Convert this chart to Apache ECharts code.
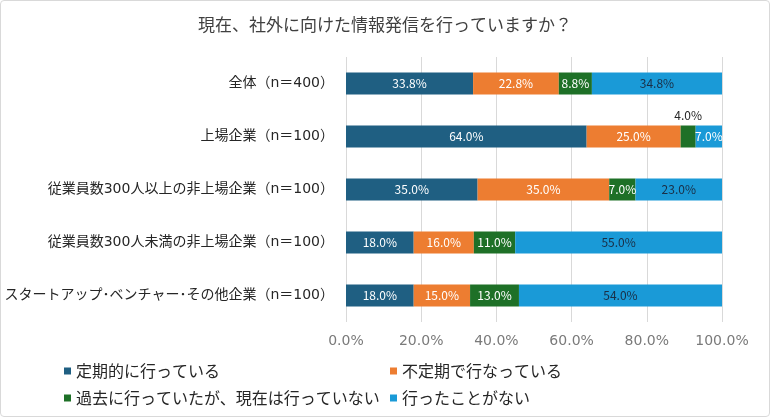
<!DOCTYPE html>
<html>
<head>
<meta charset="utf-8">
<script src="https://cdn.jsdelivr.net/npm/echarts@6/dist/echarts.min.js"></script>
<style>
    html, body { margin: 0; padding: 0; background: #fff; }
    #chart { width: 768px; height: 415px; border: 1px solid #d9d9d9; border-radius: 4px; }
</style>
</head>
<body>
<div id="chart"></div>
<script>
// 集計データ（％）
var categories = [
    '全体（n＝400）',
    '上場企業（n＝100）',
    '従業員数300人以上の非上場企業（n＝100）',
    '従業員数300人未満の非上場企業（n＝100）',
    'スタートアップ･ベンチャー･その他企業（n＝100）'
]
var seriesNames = ['定期的に行っている', '不定期で行なっている', '過去に行っていたが、現在は行っていない', '行ったことがない']
var regular = [33.8, 64.0, 35.0, 18.0, 18.0]
var irregular = [22.8, 25.0, 35.0, 16.0, 15.0]
var past = [8.8, 4.0, 7.0, 11.0, 13.0]
var never = [34.8, 7.0, 23.0, 55.0, 54.0]
var xTicks = [0, 20, 40, 60, 80, 100]

var colors = ['#1f5f82', '#ed7d31', '#1e7027', '#1a9ad7']
var labelColors = ['#ffffff', '#ffffff', '#ffffff', '#1a2e45']
var font = '"Noto Sans CJK JP", "Noto Sans", sans-serif'
var wideFont = '"DejaVu Sans", "Noto Sans CJK JP", sans-serif'

var values = [regular, irregular, past, never]

var makeSeries = function (i) {
    var data = values[i].map(function (v, j) {
        var item = { value: v }
        // 細いセグメントはラベルを上に出す
        if (i === 2 && j === 1) {
            item.label = { position: 'top', color: '#262626', distance: 4 }
        }
        if (i === 3 && j === 1) {
            item.label = { color: '#ffffff' }
        }
        return item
    })
    return {
        name: seriesNames[i],
        type: 'bar',
        stack: 'total',
        barWidth: 22,
        itemStyle: { color: colors[i] },
        label: {
            show: true,
            position: 'inside',
            color: labelColors[i],
            fontSize: 12,
            fontFamily: font,
            formatter: function (p) { return p.value.toFixed(1) + '%' }
        },
        data: data
    }
}

var myChart = echarts.init(document.getElementById('chart'))
var options = {
    animation: false,
    textStyle: { fontFamily: font },
    title: {
        text: '現在、社外に向けた情報発信を行っていますか？',
        left: 'center',
        top: 10,
        textStyle: { fontSize: 17, fontWeight: 'normal', color: '#404040', fontFamily: font }
    },
    legend: [
        {
            orient: 'vertical',
            left: 58,
            top: 357,
            itemWidth: 7,
            itemHeight: 7,
            itemGap: 11,
            icon: 'rect',
            textStyle: { fontSize: 16, color: '#262626', fontFamily: font },
            data: [seriesNames[0], seriesNames[2]]
        },
        {
            orient: 'vertical',
            left: 384,
            top: 357,
            itemWidth: 7,
            itemHeight: 7,
            itemGap: 11,
            icon: 'rect',
            textStyle: { fontSize: 16, color: '#262626', fontFamily: font },
            data: [seriesNames[1], seriesNames[3]]
        }
    ],
    grid: { left: 345, right: 47, top: 56, height: 265, containLabel: false },
    xAxis: {
        type: 'value',
        min: xTicks[0],
        max: xTicks[xTicks.length - 1],
        interval: 20,
        axisLine: { show: false },
        axisTick: { show: false },
        splitLine: { lineStyle: { color: '#d9d9d9' } },
        axisLabel: {
            color: '#7a7a7a',
            fontSize: 14,
            margin: 12,
            fontFamily: wideFont,
            formatter: function (v) { return v.toFixed(1) + '%' }
        }
    },
    yAxis: {
        type: 'category',
        inverse: true,
        data: categories,
        axisLine: { show: false },
        axisTick: { show: false },
        axisLabel: { color: '#262626', fontSize: 14, margin: 12, fontFamily: wideFont }
    },
    series: [makeSeries(0), makeSeries(1), makeSeries(2), makeSeries(3)]
}
myChart.setOption(options)
</script>
</body>
</html>
